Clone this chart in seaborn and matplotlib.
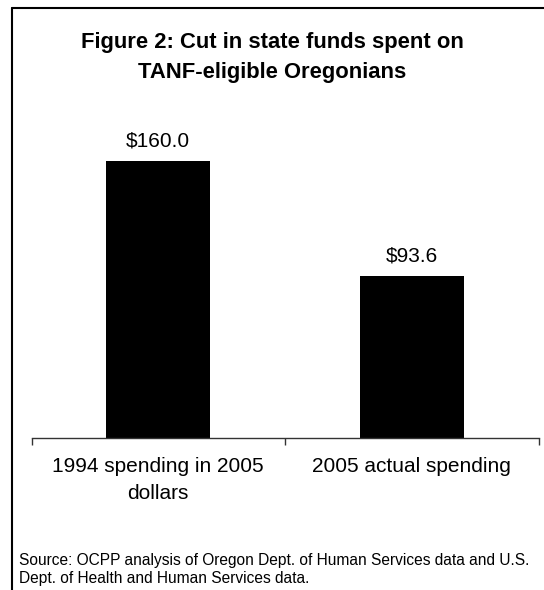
import matplotlib
matplotlib.use("Agg")
import matplotlib.pyplot as plt
import seaborn as sns
import pandas as pd
from matplotlib.ticker import FixedLocator

sns.set_theme(style="white")
plt.rcParams['font.family'] = ['Liberation Sans', 'DejaVu Sans']

categories = ["1994 spending in 2005\ndollars", "2005 actual spending"]
values = [160.0, 93.6]
value_labels = ["$160.0", "$93.6"]
title_lines = ["Figure 2: Cut in state funds spent on", "TANF-eligible Oregonians"]
source_lines = ["Source: OCPP analysis of Oregon Dept. of Human Services data and U.S.",
                "Dept. of Health and Human Services data."]

df = pd.DataFrame({"cat": categories, "val": values})

W, H = 544, 590
fig = plt.figure(figsize=(W / 100, H / 100), dpi=100)
fig.patch.set_facecolor("white")

# axes position in pixels
left, right, bottom = 31.5, 538.7, 438.3
ymax = 180
pxu = (438.3 - 161.3) / 160.0
top = bottom - ymax * pxu
ax = fig.add_axes([left / W, 1 - bottom / H, (right - left) / W, (bottom - top) / H])

sns.barplot(data=df, x="cat", y="val", color="black", width=0.41, ax=ax,
            saturation=1, edgecolor="none")
ax.set_ylim(0, ymax)
ax.set_xlim(-0.5, 1.5)
for s in ["top", "right", "left"]:
    ax.spines[s].set_visible(False)
ax.spines["bottom"].set_color("#333333")
ax.spines["bottom"].set_linewidth(1.0)
ax.set_yticks([])
ax.set_xlabel("")
ax.set_ylabel("")
ax.tick_params(axis="x", which="major", length=0, pad=13.5, labelsize=15, colors="black")
ax.xaxis.set_minor_locator(FixedLocator([-0.5, 0.5, 1.5]))
ax.tick_params(axis="x", which="minor", length=5.2, width=1.0, color="#333333",
               direction="out", bottom=True)
for lbl in ax.get_xticklabels():
    lbl.set_linespacing(1.5)

for i, (v, t) in enumerate(zip(values, value_labels)):
    ax.annotate(t, (i, v), xytext=(0, 10.8), textcoords="offset points",
                ha="center", va="baseline", fontsize=15, color="black")

for yb, line in zip([47.7, 78.0], title_lines):
    fig.text(272 / W, 1 - yb / H, line, ha="center", va="baseline", fontsize=15.8,
             fontweight="bold", color="black")
for yb, line in zip([565.5, 583.5], source_lines):
    fig.text(19 / W, 1 - yb / H, line, ha="left", va="baseline", fontsize=11.2,
             color="black")

# frame (cut off at right and bottom)
fig.add_artist(plt.Line2D([11.7 / W, 11.7 / W], [1 - 8 / H, 0], transform=fig.transFigure,
                          color="black", lw=1.5))
fig.add_artist(plt.Line2D([11.7 / W, 1], [1 - 8 / H, 1 - 8 / H], transform=fig.transFigure,
                          color="black", lw=1.5))

fig.savefig("out.png", dpi=100, facecolor="white")
